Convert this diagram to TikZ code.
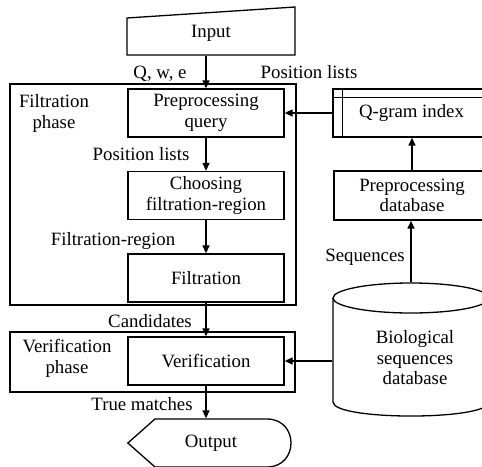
\documentclass[tikz,border=0pt]{standalone}
\usepackage{fontspec}
\setmainfont{Liberation Serif}
\usetikzlibrary{arrows.meta,calc}
\begin{document}
\begin{tikzpicture}[x=1pt,y=-1pt,
  txt/.style={font=\fontsize{18.8pt}{20.5pt}\selectfont, inner sep=0pt, align=center},
  box/.style={txt, draw, line width=1.3pt, minimum width=156pt, minimum height=48pt},
  lab/.style={txt, anchor=base},
  arr/.style={line width=1.3pt, -{Triangle[length=8pt,width=7pt]}},
  line width=1.3pt]
\useasboundingbox (0,0) rectangle (482,466);
\clip (0,0) rectangle (482,466);
% phase frames
\node[draw, inner sep=0pt, minimum width=286pt, minimum height=221pt] (fph) at (153,194.5) {};
\node[draw, inner sep=0pt, minimum width=285pt, minimum height=60pt] (vph) at (152.5,362) {};
\node[txt] (fphl) at (54,113.7) {Filtration\\phase};
\node[txt] (vphl) at (67,358.6) {Verification\\phase};
% input
\node[txt, minimum width=168pt, minimum height=44pt] (inp) at (211,33) {Input};
\draw (127,18) -- (295,7) -- (295,55) -- (127,55) -- cycle;
% main column
\node[box] (pq) at (206,113) {Preprocessing\\query};
\node[box] (cf) at (206,195.5) {Choosing\\filtration-region};
\node[box] (fi) at (206,278) {Filtration};
\node[box] (vb) at (206,361) {Verification};
% output
\node[txt, minimum width=165pt, minimum height=48pt] (out) at (211,443) {Output};
\draw (out.west) -- (155,419) -- (267,419) .. controls (299,419) and (299,467) .. (267,467) -- (155,467) -- cycle;
% right column
\node[box, minimum width=157pt] (qg) at (411.5,113) {Q-gram index};
\draw ([xshift=10pt]qg.north west) -- ([xshift=10pt]qg.south west);
\draw ([yshift=-9pt]qg.north west) -- ([yshift=-9pt]qg.north east);
\node[box, minimum height=49pt] (pdb) at (412,195.5) {Preprocessing\\database};
% database cylinder
\node[inner sep=0pt, minimum width=156pt, minimum height=133pt] (db) at (411,349.5) {};
\draw (411,298) ellipse [x radius=78pt, y radius=15pt];
\draw (333,298) -- (333,402) .. controls (333,420.7) and (489,420.7) .. (489,402) -- (489,298);
\node[txt] (dbt) at (415,357.6) {Biological\\sequences\\database};
% connectors
\draw[arr] (pq.north |- inp.south) -- (pq.north);
\draw[arr] (qg.west) -- (pq.east);
\draw[arr] (pq.south) -- (cf.north);
\draw[arr] (cf.south) -- (fi.north);
\draw[arr] (fi.south) -- (vb.north);
\draw[arr] (vb.south) -- (vb.south |- out.north);
\draw[arr] (pdb.north) -- (pdb.north |- qg.south);
\draw[arr] (db.north) -- (db.north |- pdb.south);
\draw[arr] (db.west |- vb.east) -- (vb.east);
% labels
\node[lab] (l1) at (160,78) {Q, w, e};
\node[lab] (l2) at (309,78) {Position lists};
\node[lab] (l3) at (141,160) {Position lists};
\node[lab] (l4) at (113,245) {Filtration-region};
\node[lab] (l5) at (365,261) {Sequences};
\node[lab] (l6) at (150,327) {Candidates};
\node[lab] (l7) at (142,410) {True matches};
\end{tikzpicture}
\end{document}
